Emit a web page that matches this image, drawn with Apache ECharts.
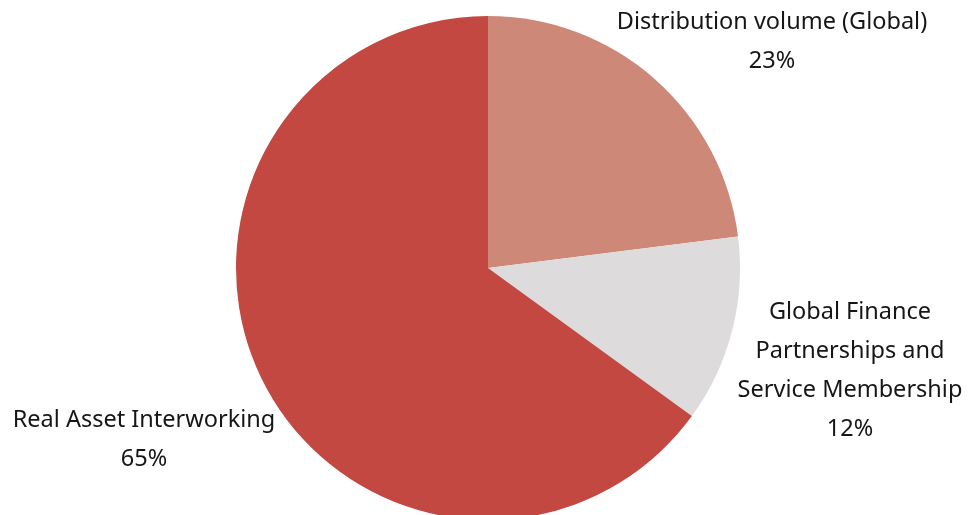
<!DOCTYPE html>
<html><head><meta charset="utf-8">
<script src="https://cdn.jsdelivr.net/npm/echarts@6/dist/echarts.min.js"></script>
<style>html,body{margin:0;padding:0;background:#fff}#c{width:969px;height:515px}</style>
</head><body><div id="c"></div>
<script>
const categories = ['Distribution volume (Global)', 'Global Finance\nPartnerships and\nService Membership', 'Real Asset Interworking'];
const values = [23, 12, 65];
const colors = ['#CD8878', '#DDDBDC', '#C34842'];
const labelPos = [[772, 42], [850, 371], [144, 440]];

const chart = echarts.init(document.getElementById('c'), null, {renderer: 'canvas'});
chart.setOption({
  animation: false,
  series: [{
    type: 'pie',
    center: [488, 268],
    radius: [0, 252],
    startAngle: 90,
    clockwise: true,
    silent: true,
    data: categories.map((c, i) => ({name: c, value: values[i], itemStyle: {color: colors[i]}})),
    itemStyle: {borderWidth: 0},
    label: {
      show: true,
      position: 'outside',
      formatter: '{b}\n{d}%',
      fontFamily: 'Noto Sans',
      fontSize: 23.5,
      lineHeight: 39,
      color: '#161616',
      align: 'center',
      overflow: 'none',
      width: 400
    },
    labelLine: {show: false},
    labelLayout: function (p) {
      const pos = labelPos[p.dataIndex];
      return {x: pos[0], y: pos[1], align: 'center', verticalAlign: 'middle'};
    }
  }]
});
</script></body></html>
